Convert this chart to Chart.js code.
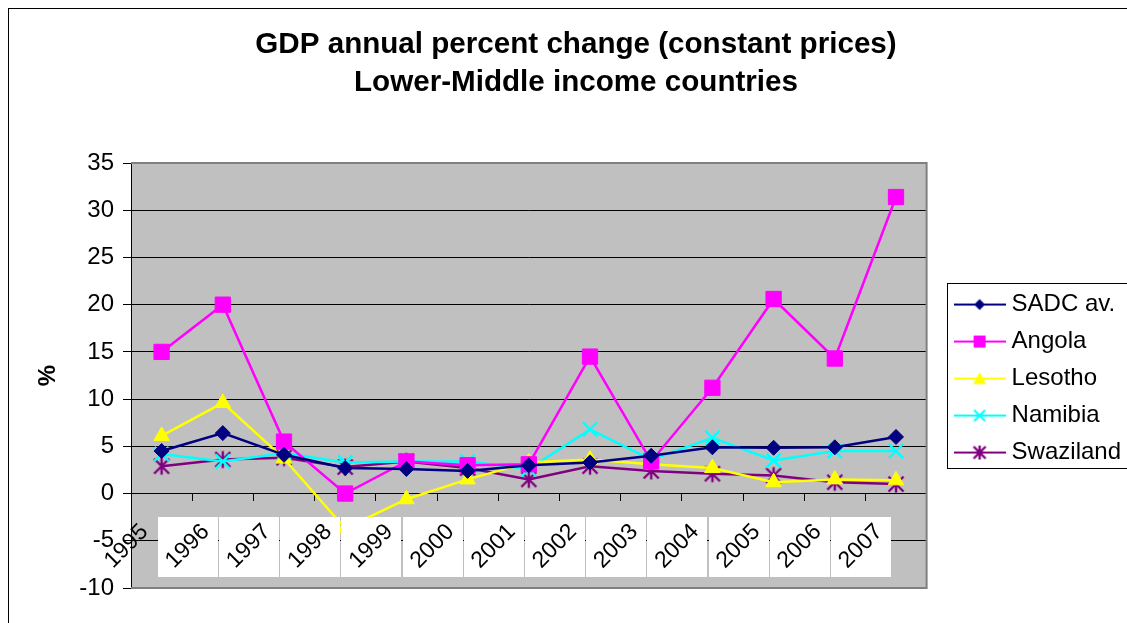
<!DOCTYPE html>
<html>
<head>
<meta charset="utf-8">
<style>
html,body{margin:0;padding:0;background:#fff;}
#wrap{width:1127px;height:623px;position:relative;overflow:hidden;}
</style>
<script src="https://cdn.jsdelivr.net/npm/chart.js@4/dist/chart.umd.min.js"></script>
</head>
<body>
<div id="wrap"><canvas id="c" width="1127" height="623"></canvas></div>
<script>
// ---- data ----
const years = ['1995','1996','1997','1998','1999','2000','2001','2002','2003','2004','2005','2006','2007'];
const sadc      = [4.5, 6.4, 4.1, 2.7, 2.6, 2.4, 3.0, 3.3, 4.0, 4.9, 4.85, 4.9, 6.0];
const angola    = [15.0, 20.0, 5.5, 0.0, 3.4, 3.0, 3.1, 14.5, 3.4, 11.2, 20.6, 14.3, 31.4];
const lesotho   = [6.1, 9.6, 3.7, -3.7, -0.6, 1.5, 3.3, 3.6, 3.1, 2.7, 1.2, 1.5, 1.4];
const namibia   = [4.2, 3.4, 4.3, 3.3, 3.4, 3.4, 2.6, 6.8, 3.6, 5.9, 3.5, 4.5, 4.5];
const swaziland = [2.9, 3.6, 3.8, 2.8, 3.4, 2.7, 1.5, 2.9, 2.4, 2.1, 1.9, 1.2, 1.0];
const seriesNames = ['SADC av.', 'Angola', 'Lesotho', 'Namibia', 'Swaziland'];
const titleLines = ['GDP annual percent change (constant prices)', 'Lower-Middle income countries'];
const yMin = -10, yMax = 35, yStep = 5;

// ---- styles ----
const colors = ['#000080', '#FF00FF', '#FFFF00', '#00FFFF', '#800080'];
const shapes = ['diamond', 'square', 'triangle', 'x', 'star'];

Chart.defaults.font.family = "'Liberation Sans', Arial, Helvetica, sans-serif";
Chart.defaults.color = '#000';

function drawShape(g, shape, cx, cy, color, s) {
  g.fillStyle = color; g.strokeStyle = color;
  g.beginPath();
  if (shape === 'diamond') {
    g.moveTo(cx, cy - s); g.lineTo(cx + s, cy); g.lineTo(cx, cy + s); g.lineTo(cx - s, cy); g.closePath(); g.fill();
  } else if (shape === 'square') {
    g.fillRect(cx - s, cy - s, 2 * s, 2 * s);
  } else if (shape === 'triangle') {
    g.moveTo(cx, cy - s); g.lineTo(cx + s, cy + s * 0.85); g.lineTo(cx - s, cy + s * 0.85); g.closePath(); g.fill();
  } else if (shape === 'x') {
    g.lineWidth = 2;
    g.moveTo(cx - s, cy - s); g.lineTo(cx + s, cy + s); g.moveTo(cx + s, cy - s); g.lineTo(cx - s, cy + s); g.stroke();
  } else if (shape === 'star') {
    g.lineWidth = 2.4;
    g.moveTo(cx, cy - s - 1); g.lineTo(cx, cy + s + 1);
    g.moveTo(cx - s, cy - s); g.lineTo(cx + s, cy + s);
    g.moveTo(cx + s, cy - s); g.lineTo(cx - s, cy + s);
    g.stroke();
  }
}

function starImg() {
  const c = document.createElement('canvas'); c.width = 20; c.height = 20;
  drawShape(c.getContext('2d'), 'star', 10, 10, colors[4], 7.5);
  return c;
}

function legendImg(i) {
  const c = document.createElement('canvas'); c.width = 52; c.height = 22;
  const g = c.getContext('2d');
  g.strokeStyle = colors[i]; g.lineWidth = 2;
  g.beginPath(); g.moveTo(0, 11); g.lineTo(52, 11); g.stroke();
  const sz = {diamond: 5.5, square: 6, triangle: 6.5, x: 5.5, star: 6}[shapes[i]];
  drawShape(g, shapes[i], 26, 11, colors[i], sz);
  return c;
}
const legendImgs = shapes.map((s, i) => legendImg(i));

const decorPlugin = {
  id: 'decor',
  beforeDraw(chart) {
    const {ctx, chartArea: a} = chart;
    ctx.save();
    ctx.fillStyle = '#fff'; ctx.fillRect(0, 0, chart.width, chart.height);
    ctx.strokeStyle = '#000'; ctx.lineWidth = 1;
    ctx.strokeRect(8.5, 8.5, 1300, 800);
    ctx.fillStyle = '#C0C0C0';
    ctx.fillRect(a.left, a.top, a.right - a.left, a.bottom - a.top);
    ctx.restore();
  },
  afterDatasetsDraw(chart) {
    const {ctx, chartArea: a, scales} = chart;
    const x = scales.x, y = scales.y;
    ctx.save();
    ctx.strokeStyle = '#808080'; ctx.lineWidth = 2;
    ctx.beginPath();
    ctx.moveTo(a.left, a.top); ctx.lineTo(a.right, a.top); ctx.lineTo(a.right, a.bottom); ctx.lineTo(a.left, a.bottom);
    ctx.stroke();
    const zeroY = y.getPixelForValue(0);
    ctx.fillStyle = '#fff';
    for (let i = 1; i < years.length; i++) {
      const cx = x.getPixelForValue(i);
      ctx.fillRect(Math.round(cx - 65), Math.round(zeroY + 23), 60, 60);
    }
    ctx.restore();
  },
  afterDraw(chart) {
    const lg = chart.legend;
    if (!lg || !lg.legendHitBoxes || !lg.legendHitBoxes.length) return;
    const hb = lg.legendHitBoxes;
    const top = hb[0].top - 10;
    const bottom = hb[hb.length - 1].top + hb[hb.length - 1].height + 3;
    const ctx = chart.ctx;
    ctx.save();
    ctx.strokeStyle = '#000'; ctx.lineWidth = 1;
    ctx.strokeRect(Math.round(lg.left) + 0.5, Math.round(top) + 0.5, 400, Math.round(bottom - top));
    ctx.restore();
  }
};

const pointStyles = ['rectRot', 'rect', 'triangle', 'crossRot', starImg()];
const radii = [7.5, 10.8, 9, 10, 10];
const seriesData = [sadc, angola, lesotho, namibia, swaziland];

const datasets = seriesData.map((d, i) => ({
  label: seriesNames[i],
  data: d,
  borderColor: colors[i],
  backgroundColor: colors[i],
  borderWidth: 2.5,
  pointStyle: pointStyles[i],
  pointRadius: radii[i],
  pointBorderWidth: i === 3 ? 2.4 : 1,
  pointBorderColor: colors[i],
  pointBackgroundColor: colors[i],
  tension: 0,
  yAxisID: 'y'
}));

new Chart(document.getElementById('c'), {
  type: 'line',
  data: { labels: years, datasets },
  options: {
    responsive: false,
    maintainAspectRatio: false,
    devicePixelRatio: 1,
    animation: false,
    events: [],
    layout: { padding: { left: 21, right: -4, top: 0, bottom: 35 } },
    plugins: {
      title: {
        display: true,
        text: titleLines,
        color: '#000',
        font: { size: 29.6, weight: 'bold', lineHeight: 1.284 },
        padding: { top: 26, bottom: 61 }
      },
      legend: {
        display: true,
        position: 'right',
        fullSize: false,
        title: { display: true, text: ' ', font: { size: 5, lineHeight: 1.2 }, padding: 0 },
        labels: {
          usePointStyle: true,
          pointStyleWidth: 40,
          boxHeight: 24,
          padding: 13,
          color: '#000',
          font: { size: 24 },
          generateLabels(chart) {
            return chart.data.datasets.map((ds, i) => ({
              text: ds.label,
              pointStyle: legendImgs[i],
              fillStyle: colors[i],
              strokeStyle: colors[i],
              lineWidth: 0,
              hidden: false,
              datasetIndex: i,
              fontColor: '#000'
            }));
          }
        }
      },
      tooltip: { enabled: false }
    },
    scales: {
      x: {
        type: 'category',
        position: { y: 0 },
        offset: true,
        grid: { offset: true, drawOnChartArea: false, drawTicks: true, tickLength: 7, color: '#000', lineWidth: 1 },
        border: { display: true, color: '#000', width: 1 },
        ticks: {
          autoSkip: false, minRotation: 45, maxRotation: 45,
          font: { size: 23 }, color: '#000', padding: 18, labelOffset: -17, z: 1
        }
      },
      y: {
        type: 'linear',
        position: 'left',
        min: yMin, max: yMax,
        afterFit(s) { s.width = 110; },
        grid: { color: '#000', lineWidth: 1, tickLength: 8, drawTicks: true },
        border: { display: true, color: '#000', width: 1 },
        ticks: { stepSize: yStep, font: { size: 24 }, color: '#000', padding: 9 },
        title: { display: true, text: '%', color: '#000', font: { size: 24, weight: 'bold' }, padding: { top: 13, bottom: 0 } }
      },
      y2: {
        type: 'linear',
        position: 'right',
        display: true,
        afterFit(s) { s.width = 20; },
        grid: { display: false, drawTicks: false },
        border: { display: false },
        ticks: { display: false }
      }
    }
  },
  plugins: [decorPlugin]
});
</script>
</body>
</html>
